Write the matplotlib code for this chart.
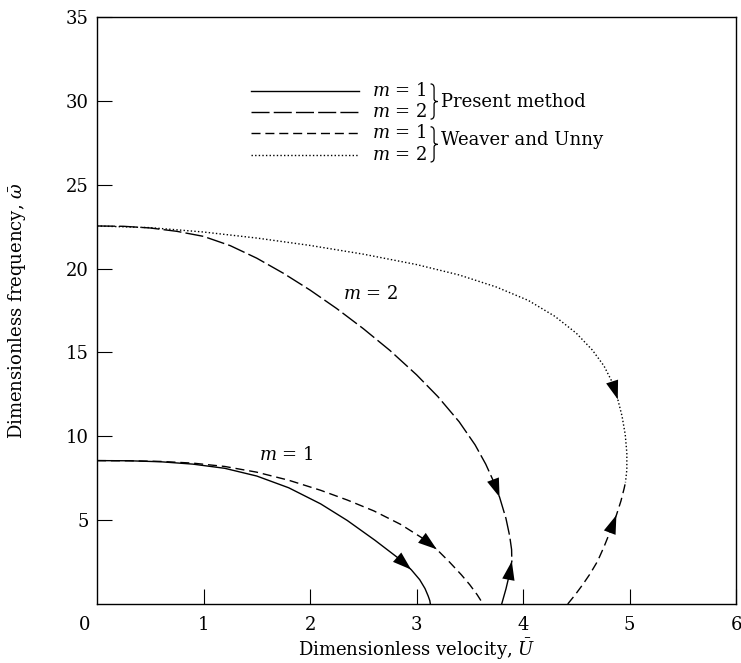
import numpy as np
import matplotlib
matplotlib.use("Agg")
import matplotlib.pyplot as plt
from matplotlib.path import Path
from matplotlib.patches import PathPatch

plt.rcParams['font.family'] = ['DejaVu Serif']
plt.rcParams['mathtext.fontset'] = 'dejavuserif'

# present method, m = 1 (falls to zero frequency)
pm1_u = [0.0, 0.3, 0.6, 0.9, 1.2, 1.5, 1.8, 2.1, 2.35, 2.61, 2.82, 2.95, 3.03, 3.08, 3.11, 3.125, 3.13]
pm1_w = [8.55, 8.54, 8.48, 8.34, 8.09, 7.63, 6.93, 5.97, 4.98, 3.80, 2.78, 2.05, 1.45, 0.92, 0.47, 0.20, 0.0]
pm1_arrow = 11

# present method, m = 1 branch rising again
pm1b_u = [3.80, 3.84, 3.87, 3.895]
pm1b_w = [0.0, 0.90, 1.70, 2.55]
pm1b_arrow = 3

# present method, m = 2
pm2_u = [0.0, 0.25, 0.5, 0.75, 1.0, 1.25, 1.5, 1.75, 2.0, 2.25, 2.5, 2.75, 3.0, 3.2,
         3.4, 3.55, 3.65, 3.73, 3.78, 3.84, 3.875, 3.893, 3.895]
pm2_w = [22.54, 22.52, 22.42, 22.22, 21.92, 21.37, 20.62, 19.72, 18.72, 17.62, 16.42, 15.12, 13.67, 12.37,
         10.87, 9.49, 8.34, 7.22, 6.37, 5.10, 4.05, 3.24, 2.55]
pm2_arrow = 18

# Weaver and Unny, m = 1
wu1_u = [0.0, 0.3, 0.6, 0.9, 1.2, 1.5, 1.8, 2.1, 2.35, 2.6, 2.85, 3.05, 3.19, 3.31, 3.42, 3.50, 3.57, 3.61, 3.625]
wu1_w = [8.55, 8.54, 8.50, 8.40, 8.20, 7.86, 7.38, 6.78, 6.20, 5.55, 4.75, 3.95, 3.26, 2.50, 1.75, 1.15, 0.55, 0.15, 0.0]
wu1_arrow = 12

# Weaver and Unny, m = 1 branch rising again
wu1b_u = [4.42, 4.49, 4.56, 4.63, 4.70, 4.76, 4.82, 4.877, 4.92, 4.95, 4.962]
wu1b_w = [0.0, 0.55, 1.15, 1.80, 2.55, 3.40, 4.35, 5.30, 6.15, 6.90, 7.25]
wu1b_arrow = 7

# Weaver and Unny, m = 2
wu2_u = [0.0, 0.5, 1.0, 1.5, 2.0, 2.5, 3.0, 3.4, 3.75, 4.05, 4.3, 4.5, 4.65, 4.76, 4.84,
         4.89, 4.93, 4.96, 4.975, 4.975, 4.962]
wu2_w = [22.54, 22.44, 22.18, 21.82, 21.38, 20.86, 20.24, 19.62, 18.90, 18.10, 17.15, 16.15, 15.15, 14.20, 13.20,
         12.20, 11.20, 10.10, 9.00, 8.00, 7.25]
wu2_arrow = 15

x_ticks = [1, 2, 3, 4, 5, 6]
y_ticks = [5, 10, 15, 20, 25, 30, 35]

solid = dict(color='k', lw=1.0, linestyle='-')
long_dash = dict(color='k', lw=1.0, dashes=(13, 3))
short_dash = dict(color='k', lw=1.0, dashes=(6.5, 3.5))
dotted = dict(color='k', lw=1.0, dashes=(1.0, 1.6))

fig = plt.figure(figsize=(7.41, 6.63), dpi=100)
ax = fig.add_axes([97 / 741, 59 / 663, 639 / 741, 587 / 663])
ax.set_xlim(0, 6)
ax.set_ylim(0, 35)


def arrow_head(u, w, i):
    # filled head pointing along the curve, tip at point i
    p1 = ax.transData.transform((u[i], w[i]))
    p0 = ax.transData.transform((u[i - 1], w[i - 1]))
    d = (p1 - p0) / np.hypot(*(p1 - p0))
    ax.annotate('', xy=(u[i], w[i]), xytext=(-d[0] * 20, -d[1] * 20),
                textcoords='offset points',
                arrowprops=dict(arrowstyle='-|>,head_length=1.35,head_width=0.45',
                                mutation_scale=10, color='k', lw=0,
                                shrinkA=0, shrinkB=0))


ax.plot(pm1_u, pm1_w, **solid)
ax.plot(pm1b_u, pm1b_w, **solid)
ax.plot(pm2_u, pm2_w, **long_dash)
ax.plot(wu1_u, wu1_w, **short_dash)
ax.plot(wu1b_u, wu1b_w, **short_dash)
ax.plot(wu2_u, wu2_w, **dotted)

for u, w, i in [(pm1_u, pm1_w, pm1_arrow), (pm1b_u, pm1b_w, pm1b_arrow),
                (pm2_u, pm2_w, pm2_arrow), (wu1_u, wu1_w, wu1_arrow),
                (wu1b_u, wu1b_w, wu1b_arrow), (wu2_u, wu2_w, wu2_arrow)]:
    arrow_head(u, w, i)

ax.text(1.78, 8.9, r'$m$ = 1', fontsize=13, ha='center', va='center')
ax.text(2.57, 18.5, r'$m$ = 2', fontsize=13, ha='center', va='center')

# legend drawn by hand with braces
leg_x0, leg_x1, txt_x = 0.241, 0.410, 0.430
leg_rows = [(0.874, solid, '1'), (0.838, long_dash, '2'),
            (0.802, short_dash, '1'), (0.765, dotted, '2')]
for y, style, m in leg_rows:
    ax.plot([leg_x0, leg_x1], [y, y], transform=ax.transAxes, **style)
    ax.text(txt_x, y, r'$m$ = ' + m, transform=ax.transAxes, fontsize=13,
            ha='left', va='center')


def brace(x, y_top, y_bot, w):
    ym = (y_top + y_bot) / 2
    h = y_top - y_bot
    verts = [(x, y_top), (x + w * 0.5, y_top), (x + w * 0.5, y_top - h * 0.12),
             (x + w * 0.5, ym + h * 0.08), (x + w * 0.5, ym), (x + w, ym),
             (x + w * 0.5, ym), (x + w * 0.5, ym - h * 0.08),
             (x + w * 0.5, y_bot + h * 0.12), (x + w * 0.5, y_bot), (x, y_bot)]
    codes = [Path.MOVETO, Path.CURVE3, Path.CURVE3, Path.LINETO,
             Path.CURVE3, Path.CURVE3, Path.CURVE3, Path.CURVE3,
             Path.LINETO, Path.CURVE3, Path.CURVE3]
    ax.add_patch(PathPatch(Path(verts, codes), transform=ax.transAxes,
                           fill=False, lw=0.9, color='k', clip_on=False))


brace(0.522, 0.886, 0.826, 0.011)
brace(0.522, 0.813, 0.753, 0.011)
ax.text(0.538, 0.856, 'Present method', transform=ax.transAxes, fontsize=13,
        ha='left', va='center')
ax.text(0.538, 0.790, 'Weaver and Unny', transform=ax.transAxes, fontsize=13,
        ha='left', va='center')

ax.set_xticks(x_ticks)
ax.set_yticks(y_ticks)
ax.tick_params(direction='in', length=10.5, width=0.8, labelsize=13)
ax.tick_params(axis='x', pad=9)
ax.tick_params(axis='y', pad=6)
for s in ax.spines.values():
    s.set_linewidth(1.0)
ax.text(-0.02, -0.036, '0', transform=ax.transAxes, fontsize=13,
        ha='center', va='center')

ax.set_xlabel(r'Dimensionless velocity, $\bar{U}$', fontsize=13, labelpad=2)
ax.set_ylabel(r'Dimensionless frequency, $\bar{\omega}$', fontsize=13, labelpad=27)

fig.savefig('out.png', dpi=100)
